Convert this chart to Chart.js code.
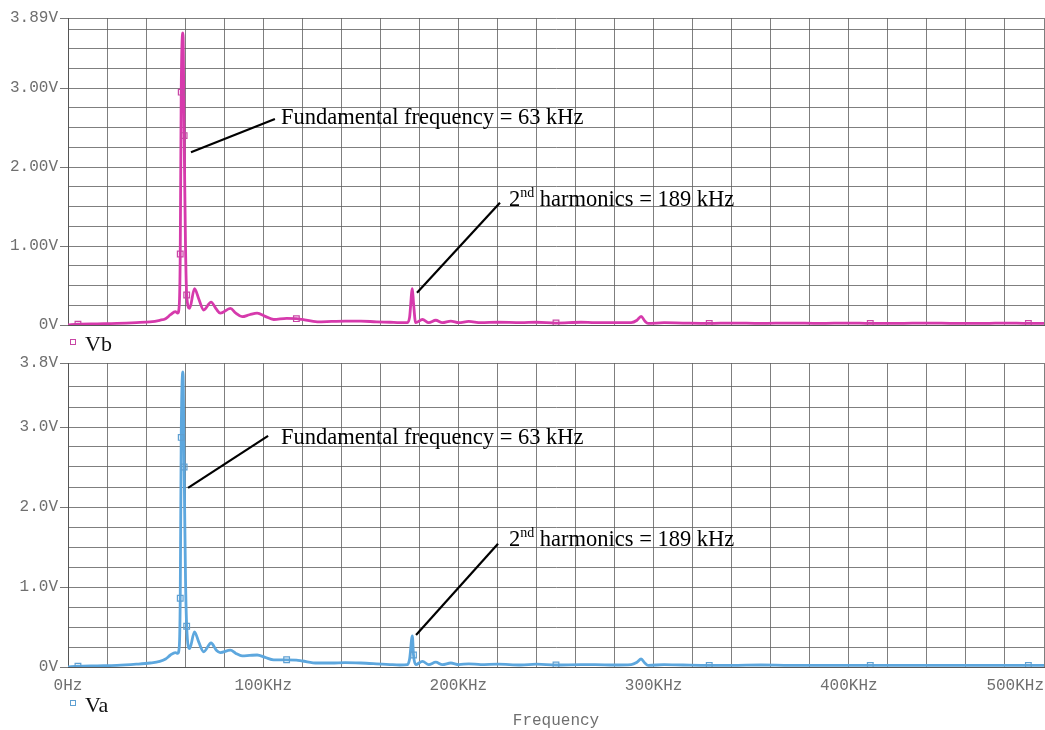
<!DOCTYPE html>
<html>
<head>
<meta charset="utf-8">
<script src="https://cdn.jsdelivr.net/npm/chart.js@4.4.1/dist/chart.umd.min.js"></script>
<style>
  html, body { margin:0; padding:0; background:#fff; }
  #wrap { position:relative; width:1045px; height:730px; overflow:hidden; }
  .box { position:absolute; left:0; width:1045px; }
  #top_box { top:0; height:360px; }
  #bot_box { top:340px; height:390px; }
</style>
</head>
<body>
<div id="wrap">
  <div class="box" id="top_box"><canvas id="vb_chart"></canvas></div>
  <div class="box" id="bot_box"><canvas id="va_chart"></canvas></div>
</div>
<script>
// frequency samples in kHz (shared by both traces)
const freqKHz = [0, 5.1, 15, 25, 35, 42, 47, 50, 52.5, 55, 56.2, 57, 57.5, 58, 58.9, 59.5, 60.2, 60.8,
  62.3, 64.8, 67, 69.5, 73.3, 76, 78, 83.2, 86, 89.2, 93, 96.9, 101, 105.4, 112, 117, 120, 127.7,
  135, 142, 150, 158, 165, 170, 173.9, 175, 176.4, 177, 178.1, 181.6, 184.8, 188.4, 191.8, 196.1,
  200.2, 205.3, 211.5, 220.2, 232, 240, 250, 262.8, 270, 279.8, 288.5, 291.5, 293.6, 295.5, 297.2,
  305.4, 315, 328.5, 340, 355, 370, 385, 400, 411, 425, 440, 455, 470, 480, 492, 500];

// Vb (top trace), volts
const vbValues = [0, 0.01, 0.015, 0.02, 0.03, 0.04, 0.06, 0.08, 0.13, 0.17, 0.15, 0.25, 0.9, 2.95, 3.7, 2.4, 1.0, 0.38,
  0.21, 0.46, 0.33, 0.19, 0.29, 0.2, 0.15, 0.21, 0.15, 0.105, 0.13, 0.15, 0.11, 0.07, 0.085, 0.08, 0.07, 0.04,
  0.045, 0.05, 0.05, 0.04, 0.035, 0.03, 0.03, 0.1, 0.46, 0.28, 0.03, 0.07, 0.03, 0.06, 0.03, 0.05,
  0.03, 0.045, 0.03, 0.035, 0.03, 0.035, 0.025, 0.035, 0.03, 0.03, 0.03, 0.06, 0.11, 0.05, 0.02,
  0.03, 0.025, 0.02, 0.025, 0.02, 0.025, 0.02, 0.025, 0.02, 0.02, 0.025, 0.02, 0.02, 0.025, 0.02, 0.02];

// Va (bottom trace), volts
const vaValues = [0, 0.01, 0.015, 0.02, 0.035, 0.05, 0.07, 0.1, 0.15, 0.18, 0.17, 0.25, 0.86, 2.87, 3.69, 2.5, 1.1, 0.51,
  0.23, 0.44, 0.31, 0.19, 0.3, 0.21, 0.18, 0.21, 0.17, 0.14, 0.145, 0.15, 0.12, 0.09, 0.09, 0.085, 0.075, 0.05,
  0.05, 0.055, 0.05, 0.04, 0.03, 0.025, 0.03, 0.1, 0.39, 0.15, 0.03, 0.07, 0.03, 0.06, 0.03, 0.05,
  0.03, 0.04, 0.03, 0.035, 0.025, 0.035, 0.025, 0.03, 0.03, 0.025, 0.03, 0.06, 0.1, 0.05, 0.02,
  0.03, 0.025, 0.02, 0.02, 0.025, 0.02, 0.02, 0.02, 0.02, 0.02, 0.02, 0.02, 0.02, 0.02, 0.02, 0.02];

// samples that carry the little square markers
const vbMarkerFreqs = [5.1, 57.5, 58, 59.5, 60.8, 117, 250, 328.5, 411, 492];
const vaMarkerFreqs = [5.1, 57.5, 58, 59.5, 60.8, 112, 177, 250, 328.5, 411, 492];

const xTickValues = [0, 100, 200, 300, 400, 500];
const xTickLabels = ['0Hz', '100KHz', '200KHz', '300KHz', '400KHz', '500KHz'];
const vbTickValues = [0, 1, 2, 3, 3.89];
const vbTickLabels = ['0V', '1.00V', '2.00V', '3.00V', '3.89V'];
const vaTickValues = [0, 1, 2, 3, 3.8];
const vaTickLabels = ['0V', '1.0V', '2.0V', '3.0V', '3.8V'];

const monoFont = {family: '"Liberation Mono", monospace', size: 16};
const axisGrey = '#6f6f6f';
const gridGrey = 'rgba(95,95,95,0.8)';

// black leader lines + labels, anchored in data units
const vbNotes = [
  {tip: [63.0, 2.19], end: [106.0, 2.61], at: [109.1, 2.55], parts: [{t: 'Fundamental frequency = 63 kHz'}]},
  {tip: [178.8, 0.41], end: [221.3, 1.55], at: [225.9, 1.51], parts: [{t: '2'}, {t: 'nd', sup: true}, {t: ' harmonics = 189 kHz'}]}
];
const vaNotes = [
  {tip: [61.5, 2.24], end: [102.5, 2.89], at: [109.1, 2.79], parts: [{t: 'Fundamental frequency = 63 kHz'}]},
  {tip: [178.3, 0.40], end: [220.3, 1.54], at: [225.9, 1.51], parts: [{t: '2'}, {t: 'nd', sup: true}, {t: ' harmonics = 189 kHz'}]}
];

const scopeDecor = {
  id: 'scopeDecor',
  afterDraw(chart, args, opts) {
    const ctx = chart.ctx;
    const xs = chart.scales.x, ys = chart.scales.y, area = chart.chartArea;
    ctx.save();
    // annotations
    opts.notes.forEach(n => {
      ctx.strokeStyle = '#000';
      ctx.lineWidth = 2.2;
      ctx.beginPath();
      ctx.moveTo(xs.getPixelForValue(n.tip[0]), ys.getPixelForValue(n.tip[1]));
      ctx.lineTo(xs.getPixelForValue(n.end[0]), ys.getPixelForValue(n.end[1]));
      ctx.stroke();
      let x = xs.getPixelForValue(n.at[0]);
      const y = ys.getPixelForValue(n.at[1]);
      ctx.fillStyle = '#000';
      ctx.textAlign = 'left';
      ctx.textBaseline = 'alphabetic';
      n.parts.forEach(p => {
        ctx.font = (p.sup ? '14px' : '22.5px') + ' "Liberation Serif", serif';
        ctx.fillText(p.t, x, p.sup ? y - 9 : y);
        x += ctx.measureText(p.t).width;
      });
    });
    // legend: hollow square + trace name
    const ds = chart.data.datasets[0];
    ctx.strokeStyle = ds.pointBorderColor;
    ctx.lineWidth = 1;
    ctx.strokeRect(area.left + 2.5, area.bottom + opts.legendDy - 2.5, 5, 5);
    ctx.fillStyle = '#111';
    ctx.font = '22px "Liberation Serif", serif';
    ctx.textBaseline = 'alphabetic';
    ctx.fillText(ds.label, area.left + 17, area.bottom + opts.legendDy + 9);
    // x tick labels, kept inside the canvas
    if (opts.xLabels) {
      ctx.font = monoFont.size + 'px ' + monoFont.family;
      ctx.fillStyle = axisGrey;
      ctx.textBaseline = 'middle';
      ctx.textAlign = 'left';
      xTickValues.forEach((v, i) => {
        const w = ctx.measureText(xTickLabels[i]).width;
        let x = xs.getPixelForValue(v) - w / 2;
        x = Math.min(x, chart.width - w - 1);
        ctx.fillText(xTickLabels[i], x, area.bottom + 19);
      });
    }
    ctx.restore();
  }
};

function gridTicks(max) {
  const t = [];
  for (let v = 0; v < max - 0.05; v += 0.25) t.push({value: v});
  t.push({value: max});
  return t;
}

function draw_trace(id, label, values, markers, color, markColor, yMax, tickVals, tickLabels, notes, isBottom) {
  const marks = new Set(markers);
  const points = freqKHz.map((f, i) => ({x: f, y: values[i]}));
  const config = {
    type: 'line',
    data: {
      datasets: [{
        label: label,
        data: points,
        borderColor: color,
        borderWidth: 2.8,
        cubicInterpolationMode: 'monotone',
        pointStyle: 'rect',
        pointRadius: c => marks.has(c.raw.x) ? 4 : 0,
        pointBackgroundColor: 'rgba(255,255,255,0)',
        pointBorderColor: markColor,
        pointBorderWidth: 1.2,
        fill: false
      }]
    },
    options: {
      responsive: true,
      maintainAspectRatio: false,
      animation: false,
      events: [],
      layout: {padding: {top: isBottom ? 23 : 18, right: 1, left: 0, bottom: 0}},
      plugins: {
        legend: {display: false},
        tooltip: {enabled: false},
        scopeDecor: {notes: notes, xLabels: isBottom, legendDy: isBottom ? 36 : 17}
      },
      scales: {
        x: {
          type: 'linear',
          min: 0,
          max: 500,
          ticks: {display: false, stepSize: 20},
          grid: {color: gridGrey, lineWidth: 1, drawTicks: false},
          border: {color: '#555', width: 1},
          title: {
            display: isBottom,
            text: 'Frequency',
            color: axisGrey,
            font: monoFont,
            padding: {top: 0, bottom: 0}
          },
          afterFit: s => { s.height = isBottom ? 63 : 35; }
        },
        y: {
          min: 0,
          max: yMax,
          afterBuildTicks: s => { s.ticks = gridTicks(yMax); },
          ticks: {
            color: axisGrey,
            font: monoFont,
            padding: 2,
            autoSkip: false,
            callback: v => {
              const k = tickVals.findIndex(t => Math.abs(t - v) < 1e-6);
              return k >= 0 ? tickLabels[k] : '';
            }
          },
          grid: {
            color: gridGrey,
            lineWidth: 1,
            tickLength: 8,
            tickColor: c => (c.tick && tickVals.some(t => Math.abs(t - c.tick.value) < 1e-6)) ? '#777' : 'rgba(0,0,0,0)'
          },
          border: {color: '#555', width: 1},
          afterFit: s => { s.width = 68; }
        }
      }
    },
    plugins: [scopeDecor]
  };
  return new Chart(document.getElementById(id), config);
}

draw_trace('vb_chart', 'Vb', vbValues, vbMarkerFreqs, 'rgb(214, 58, 172)', 'rgb(200, 70, 165)',
  3.89, vbTickValues, vbTickLabels, vbNotes, false);
draw_trace('va_chart', 'Va', vaValues, vaMarkerFreqs, 'rgb(93, 167, 222)', 'rgb(95, 160, 210)',
  3.8, vaTickValues, vaTickLabels, vaNotes, true);
</script>
</body>
</html>
